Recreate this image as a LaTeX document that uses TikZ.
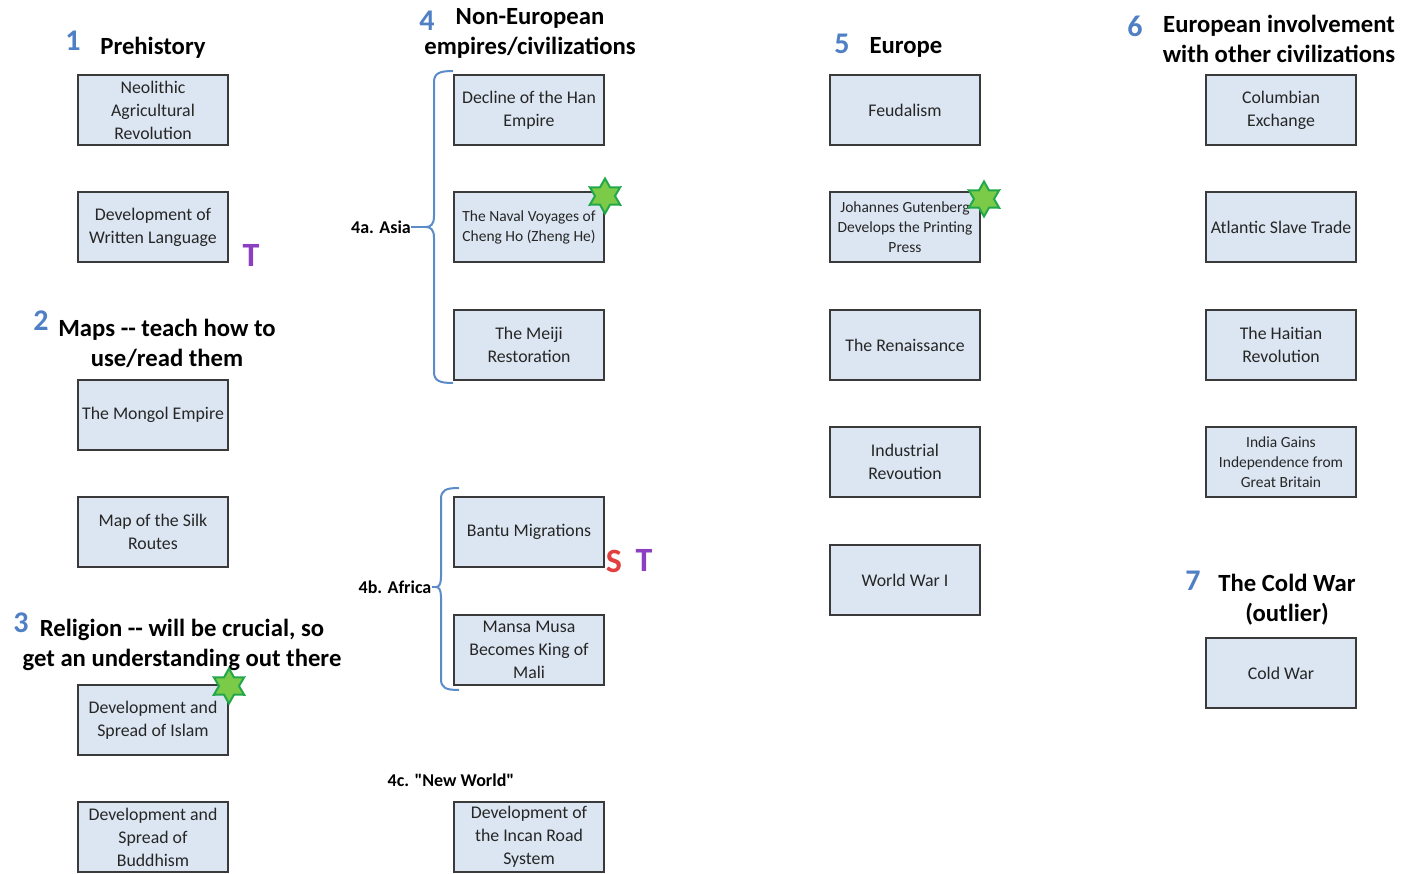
\documentclass[tikz,border=0pt]{standalone}
\usepackage{fontspec}
\setmainfont{Carlito}
\usetikzlibrary{shapes.geometric}
\definecolor{boxfill}{HTML}{DCE6F2}
\definecolor{boxline}{HTML}{3A3A3A}
\definecolor{txt}{HTML}{262626}
\definecolor{numblue}{HTML}{4F7FC4}
\definecolor{bracecol}{HTML}{5B8CC8}
\definecolor{starfill}{HTML}{7CCB48}
\definecolor{starline}{HTML}{22A84A}
\definecolor{tpurple}{HTML}{8C3FC0}
\definecolor{sred}{HTML}{E0403F}
% plain double hyphen and straight double quote, kept apart from TeX ligatures
\newcommand\dblhyph{-\kern0pt-}
\newcommand\straightquote{\XeTeXglyph\XeTeXcharglyph"22\relax}
\begin{document}
\begin{tikzpicture}[x=1pt,y=-1pt,
  evt/.style={draw=boxline, fill=boxfill, line width=1.1pt,
    minimum width=150pt, minimum height=70pt, inner sep=1pt,
    align=center, text=txt, font=\fontsize{17.8}{23}\selectfont},
  evtsmall/.style={evt, font=\fontsize{15.5}{20}\selectfont},
  head/.style={inner sep=0pt, align=center, text=black,
    font=\bfseries\fontsize{24.7}{30}\selectfont},
  num/.style={inner sep=0pt, text=numblue, font=\bfseries\fontsize{30}{30}\selectfont},
  sublabel/.style={inner sep=0pt, text=black, font=\bfseries\fontsize{18}{20}\selectfont},
  brace/.style={draw=bracecol, line width=2pt},
  badge/.style={star, star points=6, star point ratio=1.75, minimum size=35pt,
    inner sep=0pt, fill=starfill, draw=starline, line width=2pt},
  tmark/.style={inner sep=0pt, text=tpurple, font=\bfseries\fontsize{34}{34}\selectfont},
  smark/.style={inner sep=0pt, text=sred, font=\bfseries\fontsize{34}{34}\selectfont}]
\useasboundingbox (0,0) rectangle (1403,873);

% ---- 1 Prehistory
\node[num]  (n1) at (73,41) {1};
\node[head] (h1) at (153,48) {Prehistory};
\node[evt] (neo) at (153,110) {Neolithic\\Agricultural\\Revolution};
\node[evt] (writ) at (153,227) {Development of\\Written Language};
\node[tmark] (t1) at (251,255) {T};

% ---- 2 Maps
\node[num]  (n2) at (41,321) {2};
\node[head] (h2) at (167,343) {Maps \dblhyph{} teach how to\\use/read them};
\node[evt] (mong) at (153,415) {The Mongol Empire};
\node[evt] (silk) at (153,532) {Map of the Silk\\Routes};

% ---- 3 Religion
\node[num]  (n3) at (21,623) {3};
\node[head] (h3) at (182,645) {Religion \dblhyph{} will be crucial, so\\get an understanding out there};
\node[evt] (islam) at (153,720) {Development and\\Spread of Islam};
\node[badge] (s3) at (229,686) {};
\node[evt] (budd) at (153,837) {Development and\\Spread of\\Buddhism};

% ---- 4 Non-European empires
\node[num]  (n4) at (427,21) {4};
\node[head] (h4) at (530,33) {Non-European\\empires/civilizations};
\node[evt] (han) at (529,110) {Decline of the Han\\Empire};
\node[evtsmall] (naval) at (529,227) {The Naval Voyages of\\Cheng Ho (Zheng He)};
\node[badge] (s4) at (605,196) {};
\node[evt] (meiji) at (529,345) {The Meiji\\Restoration};
\node[evt] (bantu) at (529,532) {Bantu Migrations};
\node[smark] (sm) at (614,561) {S};
\node[tmark] (t2) at (644,560) {T};
\node[evt] (mansa) at (529,650) {Mansa Musa\\Becomes King of\\Mali};
\node[evt] (inca) at (529,837) {Development of\\the Incan Road\\System};

% regional groupings
\node[sublabel] (asia) at (381,227) {4a. Asia};
\coordinate (asiatip) at (426,227);
\draw[brace] (453,71) .. controls (440,71) and (434,73) .. (434,82)
  -- (434,216) .. controls (434,224) and (431,227) .. (asiatip)
  .. controls (431,227) and (434,230) .. (434,238)
  -- (434,372) .. controls (434,381) and (440,383) .. (453,383);
\draw[brace] (asia.east) -- (asiatip);

\node[sublabel] (afr) at (395,587) {4b. Africa};
\coordinate (afrtip) at (436,587);
\draw[brace] (459,488) .. controls (446,488) and (441,490) .. (441,499)
  -- (441,577) .. controls (441,584) and (439,587) .. (afrtip)
  .. controls (439,587) and (441,590) .. (441,597)
  -- (441,679) .. controls (441,688) and (446,690) .. (459,690);
\draw[brace] (afr.east) -- (afrtip);

\node[sublabel] (nw) at (451,780) {4c. \straightquote New World\straightquote};

% ---- 5 Europe
\node[num]  (n5) at (842,44) {5};
\node[head] (h5) at (906,47) {Europe};
\node[evt] (feud) at (905,110) {Feudalism};
\node[evtsmall] (gut) at (905,227) {Johannes Gutenberg\\Develops the Printing\\Press};
\node[badge] (s5) at (984,199) {};
\node[evt] (ren) at (905,345) {The Renaissance};
\node[evt] (ind) at (905,462) {Industrial\\Revoution};
\node[evt] (ww1) at (905,580) {World War I};

% ---- 6 European involvement
\node[num]  (n6) at (1135,26) {6};
\node[head] (h6) at (1279,39) {European involvement\\with other civilizations};
\node[evt] (colum) at (1281,110) {Columbian\\Exchange};
\node[evt] (slave) at (1281,227) {Atlantic Slave Trade};
\node[evt] (haiti) at (1281,345) {The Haitian\\Revolution};
\node[evtsmall] (india) at (1281,462) {India Gains\\Independence from\\Great Britain};

% ---- 7 Cold War
\node[num]  (n7) at (1193,581) {7};
\node[head] (h7) at (1287,600) {The Cold War\\(outlier)};
\node[evt] (cold) at (1281,673) {Cold War};
\end{tikzpicture}
\end{document}
